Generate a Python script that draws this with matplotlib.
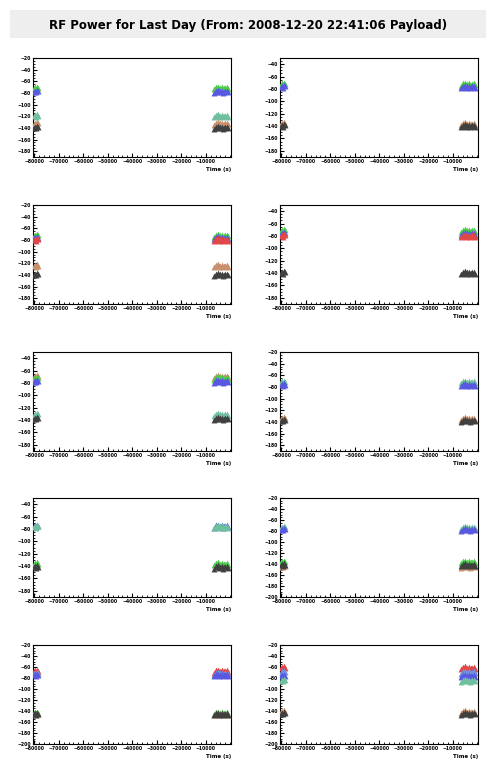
import matplotlib.pyplot as plt
from matplotlib.patches import Rectangle

# sample times (s) in the two clusters
t_early = [-80000, -79600, -79200, -78800, -78500]
t_late = [-6500, -6000, -5500, -5000, -4500, -4000, -3500, -3000, -2500, -2000, -1500, -1000]
jitter = [0, 2, -1, 3, 1, -2, 2, 0, 3, -1, 1, 2, -2, 0, 1, 2, -1]

colors = {"blue": "#5858e0", "lblue": "#6f8fe0", "green": "#4ccc4c", "teal": "#70c0a0",
          "red": "#e04848", "tan": "#c8906c", "dark": "#404040"}

# series levels (dBm) per panel, row-major (left, right)
panel_levels = [
    {"green": -72, "blue": -78, "teal": -120, "tan": -133, "dark": -140},
    {"green": -73, "blue": -77, "tan": -137, "dark": -140},
    {"green": -73, "blue": -77, "red": -80, "tan": -125, "dark": -140},
    {"green": -72, "blue": -77, "red": -80, "dark": -140},
    {"tan": -70, "green": -73, "blue": -78, "teal": -132, "dark": -138},
    {"teal": -72, "blue": -77, "tan": -135, "dark": -138},
    {"blue": -76, "teal": -77, "green": -137, "dark": -142},
    {"teal": -74, "blue": -78, "green": -137, "tan": -145, "dark": -142},
    {"red": -68, "lblue": -72, "blue": -75, "green": -144, "tan": -146, "dark": -146},
    {"red": -62, "lblue": -70, "blue": -77, "teal": -85, "tan": -142, "dark": -145},
]
ytop = [-20, -30, -20, -30, -30, -20, -30, -20, -20, -20]
ybot = [-190, -190, -190, -190, -190, -190, -190, -200, -200, -200]

fig = plt.figure(figsize=(4.96, 7.72), dpi=100)
W, H = 496, 772
fig.patches.append(Rectangle((10 / W, 1 - 38 / H), 476 / W, 28 / H, transform=fig.transFigure,
                             facecolor="#eeeeee", edgecolor="none"))
fig.text(0.5, 1 - 25 / H, "RF Power for Last Day (From: 2008-12-20 22:41:06 Payload)",
         ha="center", va="center", fontsize=8.5, fontweight="bold")

lefts = [33, 280]
tops = [58, 205, 352, 498, 645]
for i, levels in enumerate(panel_levels):
    r, c = divmod(i, 2)
    ax = fig.add_axes([lefts[c] / W, 1 - (tops[r] + 99) / H, 198 / W, 99 / H])
    times = t_early + t_late
    for name, lev in levels.items():
        ys = [lev + jitter[k % len(jitter)] for k in range(len(times))]
        ax.scatter(times, ys, marker="^", s=18, color=colors[name], linewidths=0, zorder=3)
    ax.set_xlim(-80500, 300)
    ax.set_ylim(ybot[i], ytop[i])
    ax.set_xticks(range(-80000, 0, 10000))
    ax.set_yticks(range(-180 if ybot[i] > -200 else -200, ytop[i] + 1, 20))
    ax.minorticks_on()
    ax.tick_params(labelsize=3.3, direction="in", length=3, width=0.8, pad=1.5, right=False, top=False)
    ax.tick_params(which="minor", direction="in", length=1.5, right=False, top=False)
    for lab in ax.get_xticklabels() + ax.get_yticklabels():
        lab.set_fontweight("bold")
    for s in ax.spines.values():
        s.set_linewidth(0.8)
    ax.text(1.0, -0.1, "Time (s)", transform=ax.transAxes, ha="right", va="top",
            fontsize=4, fontweight="bold")

fig.savefig("out.png", dpi=100)
